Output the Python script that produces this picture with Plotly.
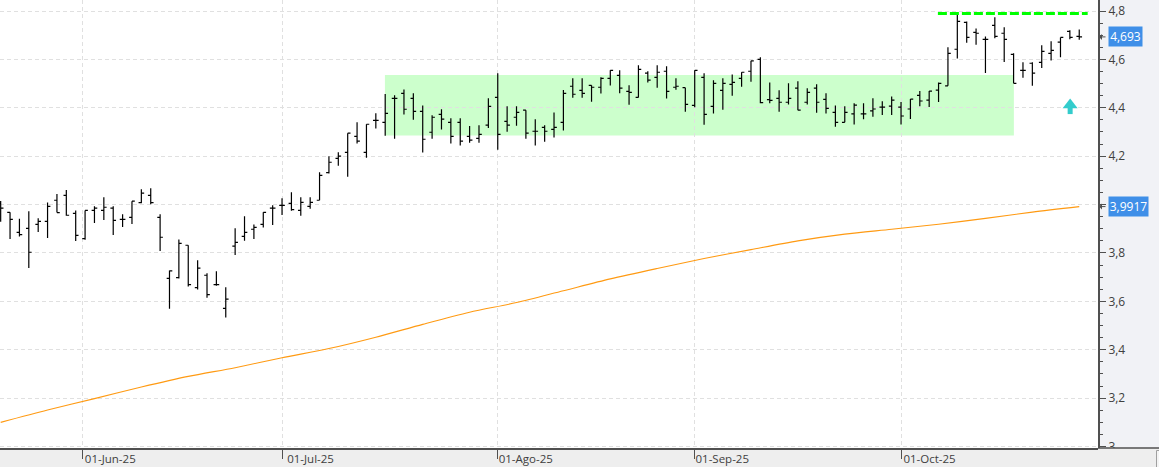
import plotly.graph_objects as go

bars = list(range(116))
highs = [4.015,3.968,3.941,3.972,3.943,4.009,4.044,4.060,3.976,3.976,3.993,4.030,3.993,3.960,4.014,4.063,4.067,3.960,3.728,3.856,3.832,3.770,3.716,3.724,3.658,3.902,3.952,3.918,3.968,3.997,
4.026,4.051,4.030,4.030,4.134,4.200,4.216,4.295,4.340,4.332,4.377,4.457,4.452,4.476,4.460,4.410,4.369,4.394,4.357,4.357,4.325,4.328,4.439,4.543,4.406,4.406,4.390,4.353,4.328,4.381,
4.474,4.522,4.522,4.493,4.526,4.555,4.555,4.493,4.576,4.551,4.576,4.572,4.522,4.483,4.555,4.543,4.514,4.522,4.538,4.547,4.594,4.609,4.505,4.472,4.501,4.510,4.481,4.497,4.460,4.410,4.406,
4.419,4.419,4.439,4.427,4.447,4.424,4.436,4.469,4.469,4.505,4.650,4.786,4.757,4.728,4.695,4.774,4.733,4.625,4.588,4.588,4.658,4.675,4.691,4.720,4.724]
lows = [3.929,3.858,3.868,3.738,3.887,3.862,3.967,3.954,3.850,3.855,3.924,3.936,3.874,3.907,3.920,4.005,4.001,3.808,3.569,3.695,3.661,3.649,3.615,3.665,3.533,3.792,3.851,3.858,3.905,3.916,
3.957,3.975,3.954,3.983,4.018,4.128,4.160,4.115,4.252,4.194,4.314,4.284,4.272,4.372,4.351,4.215,4.272,4.310,4.252,4.244,4.256,4.256,4.317,4.227,4.301,4.326,4.272,4.244,4.260,4.277,
4.306,4.442,4.442,4.425,4.459,4.492,4.460,4.413,4.443,4.505,4.483,4.438,4.475,4.384,4.402,4.330,4.376,4.392,4.450,4.487,4.508,4.419,4.419,4.384,4.414,4.390,4.414,4.380,4.376,4.322,4.340,
4.331,4.353,4.363,4.370,4.370,4.331,4.354,4.406,4.403,4.424,4.491,4.604,4.669,4.661,4.544,4.687,4.589,4.501,4.524,4.491,4.564,4.595,4.609,4.683,4.681]
opens = [4.005,3.968,3.885,3.902,3.918,3.931,4.018,4.038,3.964,3.859,3.976,3.976,3.985,3.939,3.947,4.008,4.038,3.947,3.695,3.698,3.832,3.657,3.708,3.669,3.571,3.828,3.869,3.898,3.918,3.985,
3.997,4.005,3.976,3.993,4.018,4.132,4.191,4.216,4.282,4.216,4.348,4.340,4.439,4.460,4.439,4.385,4.299,4.373,4.340,4.340,4.282,4.274,4.328,4.443,4.344,4.361,4.390,4.303,4.319,4.311,
4.340,4.489,4.472,4.493,4.485,4.522,4.534,4.468,4.443,4.543,4.526,4.551,4.485,4.483,4.410,4.526,4.406,4.472,4.497,4.522,4.551,4.600,4.434,4.439,4.423,4.481,4.423,4.481,4.435,4.381,4.340,
4.375,4.375,4.387,4.403,4.407,4.403,4.395,4.451,4.432,4.473,4.491,4.642,4.753,4.712,4.683,4.741,4.708,4.621,4.555,4.584,4.588,4.625,4.671,4.716,4.695]
closes = [3.985,3.939,3.876,3.803,3.931,3.993,3.967,3.956,3.873,3.976,3.985,3.989,3.935,3.939,4.014,4.047,4.008,3.865,3.726,3.840,3.669,3.737,3.628,3.669,3.609,3.844,3.885,3.906,3.968,3.985,
3.997,3.979,4.009,4.009,4.121,4.175,4.200,4.295,4.262,4.332,4.348,4.377,4.439,4.394,4.385,4.270,4.361,4.353,4.282,4.262,4.266,4.290,4.406,4.290,4.328,4.381,4.295,4.303,4.303,4.319,
4.460,4.456,4.460,4.485,4.522,4.555,4.481,4.464,4.559,4.514,4.547,4.468,4.489,4.414,4.555,4.373,4.501,4.501,4.505,4.547,4.594,4.421,4.431,4.423,4.439,4.390,4.464,4.423,4.398,4.340,4.381,
4.411,4.375,4.395,4.403,4.432,4.366,4.436,4.428,4.469,4.501,4.625,4.757,4.691,4.708,4.683,4.695,4.683,4.501,4.555,4.543,4.633,4.637,4.691,4.691,4.693]

ma_bars = [0,5,10,15,20,25,30,35,40,45,50,55,60,65,70,75,80,85,90,95,100,105,110,115]
ma_values = [3.100,3.151,3.198,3.246,3.290,3.326,3.367,3.405,3.452,3.505,3.555,3.595,3.644,3.693,3.736,3.777,3.814,3.850,3.878,3.898,3.919,3.943,3.969,3.9917]

tick_bars = [8.70, 30.05, 53.0, 73.95, 96.05]
tick_labels = ["01-Jun-25", "01-Jul-25", "01-Ago-25", "01-Sep-25", "01-Oct-25"]
price_ticks = [3.0, 3.2, 3.4, 3.6, 3.8, 4.0, 4.2, 4.4, 4.6, 4.8]
price_labels = ["3", "3,2", "3,4", "3,6", "3,8", "", "4,2", "4,4", "4,6", "4,8"]

zone_bars = [40.97, 108.03]
zone_prices = [4.285, 4.5355]
resistance_bars = [99.93, 115.9]
resistance_prices = [4.79, 4.79]
arrow_bar = [114.03]
arrow_head = [4.4116]
arrow_stem_bars = [114.03, 114.03]
arrow_stem = [4.403, 4.374]

last_price = 4.693
last_ma = 3.9917
last_price_text = "4,693"
last_ma_text = "3,9917"

WIDTH, HEIGHT = 1159, 467
M_R, M_B = 61, 19
FONT = "Open Sans"
AXIS = "#505050"
GRID = "#e0e0e0"
TEXT = "#404040"
over_x = 1 + M_R / (WIDTH - M_R)
over_y = -M_B / (HEIGHT - M_B)

fig = go.Figure()
fig.add_trace(go.Ohlc(x=bars, open=opens, high=highs, low=lows, close=closes,
                      increasing=dict(line=dict(color="#000000", width=1.2)),
                      decreasing=dict(line=dict(color="#000000", width=1.2)),
                      tickwidth=0.3, hoverinfo="skip"))
fig.add_trace(go.Scatter(x=ma_bars, y=ma_values, mode="lines",
                         line=dict(color="#FF9A12", width=1.1, shape="spline", smoothing=0.8), hoverinfo="skip"))
fig.add_trace(go.Scatter(x=resistance_bars, y=resistance_prices, mode="lines",
                         line=dict(color="#00FF00", width=3, dash="9px,3px"), hoverinfo="skip"))
fig.add_trace(go.Scatter(x=arrow_stem_bars, y=arrow_stem, mode="lines",
                         line=dict(color="#33CCCC", width=5), hoverinfo="skip"))
fig.add_trace(go.Scatter(x=arrow_bar, y=arrow_head, mode="markers",
                         marker=dict(symbol="triangle-up", size=13, color="#33CCCC"), hoverinfo="skip"))

shapes = [
    dict(type="rect", xref="x", yref="y", x0=zone_bars[0], x1=zone_bars[1], y0=zone_prices[0], y1=zone_prices[1],
         fillcolor="#CCFFCC", line=dict(width=0), layer="below"),
    dict(type="rect", xref="paper", yref="paper", x0=1, x1=over_x, y0=0, y1=1,
         fillcolor="#F1F2F6", line=dict(width=0), layer="below"),
    dict(type="rect", xref="paper", yref="paper", x0=1, x1=over_x, y0=over_y, y1=0,
         fillcolor="#EEEEEE", line=dict(width=0), layer="above"),
    dict(type="line", xref="paper", yref="paper", x0=1, x1=over_x, y0=0, y1=0,
         line=dict(color=AXIS, width=1.5), layer="above"),
    dict(type="rect", xref="paper", yref="paper", x0=1 + 58.5 / (WIDTH - M_R), x1=over_x + 0.01,
         y0=over_y - 0.01, y1=-2.5 / (HEIGHT - M_B),
         fillcolor="#F4F4F4", line=dict(color="#A0A0A0", width=1), layer="above"),
]

annotations = []
for price, text, box in [(last_price, last_price_text, 33), (last_ma, last_ma_text, 39)]:
    annotations.append(dict(xref="paper", yref="y", x=1, y=price, text=text, showarrow=False,
                            xanchor="left", xshift=10, bgcolor="#3F8FE8", borderpad=0,
                            width=box, height=19, align="center",
                            font=dict(family=FONT, size=12, color="#FFFFFF")))
    annotations.append(dict(xref="paper", yref="y", x=1, y=price, text="", showarrow=True,
                            axref="pixel", ayref="pixel", ax=9, ay=0, standoff=1,
                            arrowhead=1, arrowsize=1, arrowwidth=1, arrowcolor=AXIS))

fig.update_layout(
    width=WIDTH, height=HEIGHT,
    margin=dict(l=0, r=M_R, t=0, b=M_B, autoexpand=False),
    paper_bgcolor="#EEEEEE", plot_bgcolor="#FFFFFF",
    showlegend=False, separators=", ",
    font=dict(family=FONT, size=12, color=TEXT),
    shapes=shapes, annotations=annotations,
    xaxis=dict(range=[-0.0714, 117.0], rangeslider=dict(visible=False),
               tickmode="array", tickvals=tick_bars, ticktext=tick_labels,
               ticks="outside", ticklen=9, tickwidth=1, tickcolor=AXIS,
               ticklabelshift=28, ticklabelstandoff=-10,
               tickfont=dict(family=FONT, size=11.5, color=TEXT),
               showline=True, linecolor=AXIS, linewidth=1.5,
               showgrid=True, gridcolor=GRID, griddash="4px,3px", gridwidth=1, zeroline=False),
    yaxis=dict(side="right", range=[2.994, 4.8455], tickmode="array", tickvals=price_ticks, ticktext=price_labels,
               ticks="outside", ticklen=6, tickwidth=1, tickcolor=AXIS,
               tickfont=dict(family=FONT, size=12, color=TEXT),
               minor=dict(dtick=0.05, tick0=3.0, ticks="outside", ticklen=3, tickwidth=1, tickcolor=AXIS, showgrid=False),
               showline=True, linecolor=AXIS, linewidth=2,
               showgrid=True, gridcolor=GRID, griddash="4px,3px", gridwidth=1, zeroline=False),
)

fig.write_html("out.html", config=dict(displayModeBar=False),
               post_script="document.body.style.margin='0';document.body.style.overflow='hidden';")
